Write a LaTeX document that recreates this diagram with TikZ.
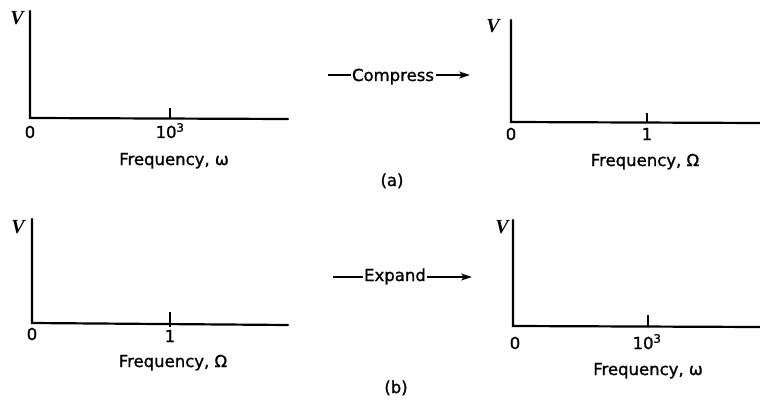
\documentclass[tikz,border=0pt]{standalone}
\usepackage{fontspec}
\setmainfont{DejaVu Sans}[FakeBold=1.2]
\newfontfamily\vfont{Liberation Serif}
\usetikzlibrary{arrows.meta}
\begin{document}
\begin{tikzpicture}[x=1pt,y=-1pt,
  axis/.style={line width=2.2pt,line cap=round},
  tick/.style={line width=1.4pt},
  lbl/.style={font=\fontsize{16.5}{18}\selectfont,inner sep=0pt,anchor=base},
  vlbl/.style={font=\fontsize{20}{22}\selectfont\vfont\itshape\bfseries,inner sep=0pt,anchor=base},
  arr/.style={line width=1.5pt,-{Stealth[length=11pt,width=7pt,inset=3pt]}},
  dsh/.style={line width=1.5pt}]
\useasboundingbox (0,0) rectangle (760,401);
% (a) left
\coordinate (a1top) at (30,11);
\coordinate (a1o) at (30,118);
\coordinate (a1end) at (288,119);
\draw[axis] (a1top) -- (a1o) -- (a1end);
\coordinate (a1t1) at (170,108);
\coordinate (a1t2) at (170,118);
\draw[tick] (a1t1) -- (a1t2);
\node[vlbl] (a1V) at (17,25) {V};
\node[lbl] (a1z) at (30,138) {0};
\node[lbl] (a1k) at (170,138) {10\textsuperscript{3}};
\node[lbl] (a1f) at (174,165) {Frequency, ω};
% (a) right
\coordinate (a2top) at (511,20);
\coordinate (a2o) at (511,122);
\coordinate (a2end) at (760,123);
\draw[axis] (a2top) -- (a2o) -- (a2end);
\coordinate (a2t1) at (647,113);
\coordinate (a2t2) at (647,122);
\draw[tick] (a2t1) -- (a2t2);
\node[vlbl] (a2V) at (493,33) {V};
\node[lbl] (a2z) at (511,140) {0};
\node[lbl] (a2k) at (647,140) {1};
\node[lbl] (a2f) at (645,166) {Frequency, Ω};
\node[lbl] (capa) at (392,186) {(a)};
% compress
\node[lbl] (comp) at (393,81) {Compress};
\coordinate (c0) at (328,75);
\coordinate (c1) at (470,75);
\draw[dsh] (c0) -- ([xshift=-1pt]comp.west |- c0);
\draw[arr] ([xshift=2pt]comp.east |- c1) -- (c1);
% (b) left
\coordinate (b1top) at (32,219);
\coordinate (b1o) at (32,323);
\coordinate (b1end) at (288,325);
\draw[axis] (b1top) -- (b1o) -- (b1end);
\coordinate (b1t1) at (170,312);
\coordinate (b1t2) at (170,327);
\draw[tick] (b1t1) -- (b1t2);
\node[vlbl] (b1V) at (18,233) {V};
\node[lbl] (b1z) at (32,340) {0};
\node[lbl] (b1k) at (170,342) {1};
\node[lbl] (b1f) at (173,367) {Frequency, Ω};
% (b) right
\coordinate (b2top) at (513,220);
\coordinate (b2o) at (513,326);
\coordinate (b2end) at (760,327);
\draw[axis] (b2top) -- (b2o) -- (b2end);
\coordinate (b2t1) at (648,315);
\coordinate (b2t2) at (648,326);
\draw[tick] (b2t1) -- (b2t2);
\node[vlbl] (b2V) at (502,233) {V};
\node[lbl] (b2z) at (515,349) {0};
\node[lbl] (b2k) at (647,349) {10\textsuperscript{3}};
\node[lbl] (b2f) at (648,375) {Frequency, ω};
\node[lbl] (capb) at (396,393) {(b)};
% expand
\node[lbl] (exp) at (395,281) {Expand};
\coordinate (e0) at (333,277);
\coordinate (e1) at (472,277);
\draw[dsh] (e0) -- ([xshift=-1pt]exp.west |- e0);
\draw[arr] ([xshift=1pt]exp.east |- e1) -- (e1);
\end{tikzpicture}
\end{document}
